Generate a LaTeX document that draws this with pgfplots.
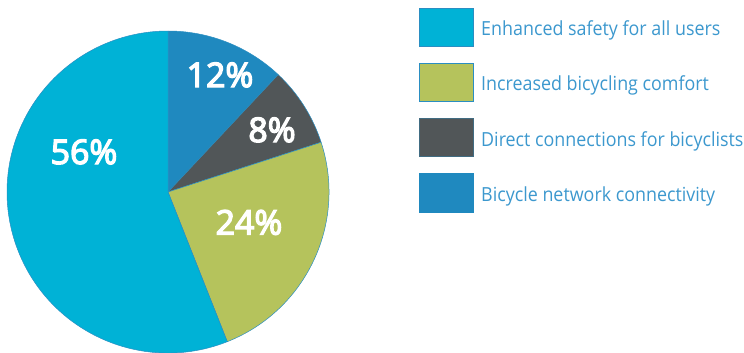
\documentclass[border=0pt]{standalone}
\usepackage{pgfplots}
\pgfplotsset{compat=1.18}
\usepackage{pgfplotstable}
\usepackage{fontspec}
\setmainfont{Open Sans}
\newfontfamily\legfont{Open Sans}[FakeStretch=0.92]
\newfontfamily\labfont{Open Sans}[FakeBold=4]
\definecolor{cCyan}{HTML}{00B2D6}
\definecolor{cGreen}{HTML}{B5C35C}
\definecolor{cGray}{HTML}{515658}
\definecolor{cBlue}{HTML}{1F89BF}
\definecolor{cText}{HTML}{3C98CE}
\definecolor{cEdge}{HTML}{2A8EC2}

% value, slice colour, label position (pixels, y downward)
\pgfplotstableread{
value color lx ly
12 cBlue 220 87
8 cGray 272 142
24 cGreen 249 234.5
56 cCyan 84 164
}\pietbl
\pgfplotstablecreatecol[create col/expr accum={\pgfmathaccuma + \thisrow{value}}{0}]{cum}\pietbl

\begin{document}
\begin{tikzpicture}
\begin{axis}[scale only axis, width=744bp, height=353bp,
  xmin=0, xmax=744, ymin=0, ymax=353, y dir=reverse,
  hide axis, clip=false]
\pgfplotsinvokeforeach{0,...,3}{
  \pgfplotstablegetelem{#1}{value}\of\pietbl \let\v\pgfplotsretval
  \pgfplotstablegetelem{#1}{cum}\of\pietbl \let\cu\pgfplotsretval
  \pgfplotstablegetelem{#1}{color}\of\pietbl \let\c\pgfplotsretval
  \pgfmathsetmacro\sa{90-3.6*(\cu-\v)}
  \pgfmathsetmacro\ea{90-3.6*\cu}
  \edef\temp{\noexpand\filldraw[fill=\c, draw=cEdge, line width=0.5bp, line join=round]
    (axis cs:168,192) -- ++(\sa:161bp) arc[start angle=\sa, end angle=\ea, radius=161bp] -- cycle;
    }
  \temp
}
\pgfplotsinvokeforeach{0,...,3}{
  \pgfplotstablegetelem{#1}{value}\of\pietbl \let\v\pgfplotsretval
  \pgfplotstablegetelem{#1}{lx}\of\pietbl \let\lx\pgfplotsretval
  \pgfplotstablegetelem{#1}{ly}\of\pietbl \let\ly\pgfplotsretval
  \pgfmathtruncatemacro\vi{\v}
  \edef\temp{\noexpand\node[anchor=base, text=white, font=\noexpand\labfont\noexpand\fontsize{34}{34}\noexpand\selectfont, inner sep=0pt]
    at (axis cs:\lx,\ly) {\vi\noexpand\%};}
  \temp
}
% legend
\filldraw[fill=cCyan, draw=cEdge, line width=0.8bp] (axis cs:419,8) rectangle (axis cs:473,46);
\filldraw[fill=cGreen, draw=cEdge, line width=0.8bp] (axis cs:419,63) rectangle (axis cs:473,101);
\filldraw[fill=cGray, draw=cEdge!40!cGray, line width=0.8bp] (axis cs:419,118) rectangle (axis cs:473,156);
\filldraw[fill=cBlue, draw=cBlue, line width=0.8bp] (axis cs:419,173) rectangle (axis cs:473,212);
\begin{scope}[every node/.style={anchor=base west, inner sep=0pt, text=cText, font=\legfont\fontsize{19.5}{19.5}\selectfont}]
\node at (axis cs:481,35) {Enhanced safety for all users};
\node at (axis cs:481,90.7) {Increased bicycling comfort};
\node at (axis cs:481,146) {Direct connections for bicyclists};
\node at (axis cs:481,201) {Bicycle network connectivity};
\end{scope}
\end{axis}
\pgfresetboundingbox
\path (0,0) rectangle (744bp,353bp);
\end{tikzpicture}
\end{document}
